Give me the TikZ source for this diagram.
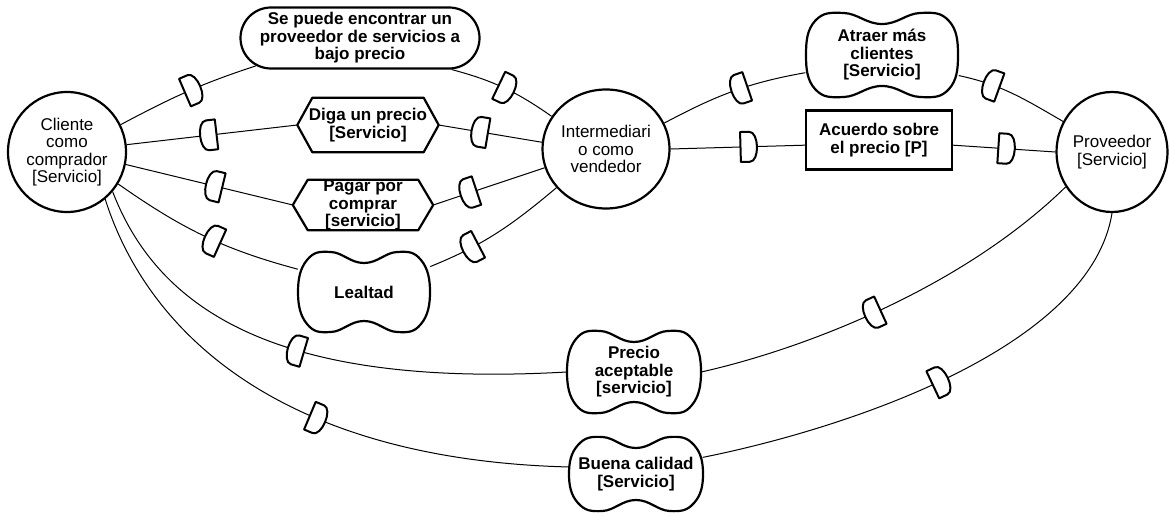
\documentclass[tikz,border=0pt]{standalone}
\usepackage{fontspec}
\setmainfont{Liberation Sans}
\usetikzlibrary{shapes.geometric,shapes.misc,decorations.markings}

\newcommand{\dfwd}{\draw[dline] (-8,-15) -- (1,-15) .. controls (11,-15) and (11,15) .. (1,15) -- (-8,15) -- cycle;}
\newcommand{\dback}{\draw[dline, xscale=-1] (-8,-15) -- (1,-15) .. controls (11,-15) and (11,15) .. (1,15) -- (-8,15) -- cycle;}

\begin{document}
\begin{tikzpicture}[x=1pt, y=1pt,
  actor/.style={ellipse, draw, line width=2.2pt, align=center, inner sep=0pt, font=\fontsize{17}{17.5}\selectfont},
  dependum/.style={align=center, inner sep=0pt, font=\fontsize{17}{17.5}\selectfont\bfseries},
  goal/.style={dependum, rounded rectangle, draw, line width=2.2pt},
  resource/.style={dependum, rectangle, draw, line width=2.2pt},
  outline/.style={line width=2.2pt, line join=round},
  link/.style={line width=1pt},
  dline/.style={line width=2pt, fill=white, line join=round},
  dep/.style={postaction={decorate, decoration={markings, mark=at position #1 with {\dfwd}}}},
  rdep/.style={postaction={decorate, decoration={markings, mark=at position #1 with {\dback}}}}]
  \fill[white] (0,0) rectangle (1169,520);
  \useasboundingbox (0,0) rectangle (1169,520);

  \node[actor, minimum width=118pt, minimum height=120pt] (cliente) at (67,368) {Cliente\\como\\comprador\\{[Servicio]}};
  \node[actor, minimum width=119pt, minimum height=119pt] (inter) at (606,371) {Intermediari\\o como\\vendedor};
  \node[actor, minimum width=110pt, minimum height=120pt] (prov) at (1112,368) {Proveedor\\{[Servicio]}};

  \node[goal, minimum width=239pt, minimum height=61pt] (barato) at (360,482) {Se puede encontrar un\\proveedor de servicios a\\bajo precio};
  \node[dependum, minimum width=141pt, minimum height=54pt] (diga) at (368,395) {Diga un precio\\{[Servicio]}};
  \node[dependum, minimum width=140pt, minimum height=50pt] (pagar) at (363,315) {Pagar por\\comprar\\{[servicio]}};
  \node[dependum, minimum width=132pt, minimum height=80pt] (lealtad) at (364,228) {Lealtad};
  \node[dependum, minimum width=153pt, minimum height=85pt] (atraer) at (882,465) {Atraer más\\clientes\\{[Servicio]}};
  \node[resource, minimum width=146pt, minimum height=59pt] (acuerdo) at (879,380) {Acuerdo sobre\\el precio [P]};
  \node[dependum, minimum width=134pt, minimum height=82pt] (precio) at (634,148) {Precio\\aceptable\\{[servicio]}};
  \node[dependum, minimum width=133pt, minimum height=74pt] (calidad) at (636,46) {Buena calidad\\{[Servicio]}};

  \foreach \n in {diga, pagar}
    \draw[outline] (\n.west) -- ([xshift=15pt]\n.north west) -- ([xshift=-15pt]\n.north east) -- (\n.east)
      -- ([xshift=-15pt]\n.south east) -- ([xshift=15pt]\n.south west) -- cycle;
  \foreach \n/\w/\h in {lealtad/66/40, atraer/76/42, precio/67/41, calidad/67/37}
    \draw[outline, shift={(\n.center)}] plot[smooth cycle, tension=0.75] coordinates {(-\w+9,\h-8) (-\w/2,\h) (0,\h-11) (\w/2,\h)
      (\w-9,\h-8) (\w,0) (\w-9,-\h+8) (\w/2,-\h) (0,-\h+11) (-\w/2,-\h) (-\w+9,-\h+8) (-\w,0)};

  \draw[link, dep=0.54] (cliente.27) to[out=28, in=198] (barato.195);
  \draw[link, dep=0.52] (barato.-19) to[out=-15, in=145] (inter.149);
  \draw[link, rdep=0.48] (cliente.7) -- (diga.west);
  \draw[link, rdep=0.4] (diga.east) -- (inter.174);
  \draw[link, rdep=0.53] (cliente.-12) -- (pagar.west);
  \draw[link, rdep=0.32] (pagar.east) -- (inter.197);
  \draw[link, rdep=0.55] (cliente.-32) to[out=-35, in=165] (lealtad.161);
  \draw[link, rdep=0.3] (lealtad.21) to[out=22, in=220] (inter.218);
  \draw[link, rdep=0.48] (cliente.-41) .. controls (160,205) and (285,132) .. (precio.west);
  \draw[link, rdep=0.44] (precio.east) .. controls (800,170) and (960,230) .. (prov.217);
  \draw[link, dep=0.55] (cliente.-51) .. controls (150,180) and (290,60) .. (calidad.174);
  \draw[link, dep=0.5] (calidad.14) .. controls (840,90) and (1090,170) .. (prov.south);
  \draw[link, rdep=0.55] (inter.24) to[out=28, in=190] (atraer.193);
  \draw[link, rdep=0.3] (atraer.-15) to[out=-12, in=150] (prov.148);
  \draw[link, dep=0.58] (inter.east) -- (acuerdo.184);
  \draw[link, dep=0.52] (acuerdo.-4) -- (prov.west);
\end{tikzpicture}
\end{document}
